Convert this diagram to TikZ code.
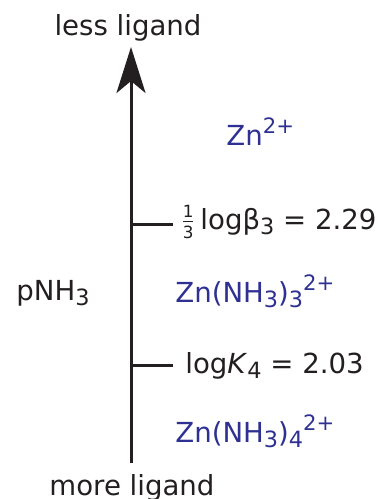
\documentclass[tikz,border=0pt]{standalone}
\usepackage{amsmath}
\usepackage{fontspec}
\setmainfont{DejaVu Sans}
\usetikzlibrary{arrows.meta, positioning}

\definecolor{species}{RGB}{46,49,146}
\definecolor{ink}{RGB}{35,31,32}
\newcommand{\sbs}[1]{\raisebox{-2.5pt}{\fontsize{11.2}{12}\selectfont #1}}
\newcommand{\chg}[1]{\raisebox{5.8pt}{\fontsize{10.6}{12}\selectfont #1}}
\newcommand{\fr}[1]{\text{\fontsize{8.4}{9}\selectfont #1}}

\begin{document}
\begin{tikzpicture}[
    x=0.5pt, y=-0.5pt,
    lbl/.style={anchor=base west, inner sep=0pt, font=\fontsize{13.8}{16}\selectfont, text=ink},
    ion/.style={lbl, text=species},
    axis/.style={draw=ink, line width=1.5pt},
    tick/.style={draw=ink, line width=1.5pt},
    >={Stealth[length=23pt, width=14.5pt, inset=6pt]}
  ]
  \useasboundingbox (0,0) rectangle (377,499);

  % Axis
  \coordinate (bot) at (131,463);
  \coordinate (top) at (131,47);
  \draw[axis, ->] (bot) -- (top);
  \node[lbl, anchor=base] (less) at (128,35) {less ligand};
  \node[lbl, anchor=base] (more) at (132,495) {more ligand};
  \node[lbl] (pnh) at (16,300) {pNH\sbs{3}};

  % Ticks
  \coordinate (t1) at (131,224);
  \coordinate (t2) at (131,365);
  \coordinate (t1e) at (173,224);
  \coordinate (t2e) at (173,365);
  \draw[tick] (t1) -- (t1e);
  \draw[tick] (t2) -- (t2e);
  \node[lbl] (beta) at (180,229) {$\frac{\fr{1}}{\fr{3}}$\,logβ\sbs{3} = 2.29};
  \node[lbl] (k4) at (185,373) {log\textit{K}\sbs{4} = 2.03};

  % Species
  \node[ion] (zn) at (226,145) {Zn\chg{2+}};
  \node[ion] (zn3) at (175,302) {Zn(NH\sbs{3})\sbs{3}\chg{2+}};
  \node[ion] (zn4) at (175,442) {Zn(NH\sbs{3})\sbs{4}\chg{2+}};
\end{tikzpicture}
\end{document}
